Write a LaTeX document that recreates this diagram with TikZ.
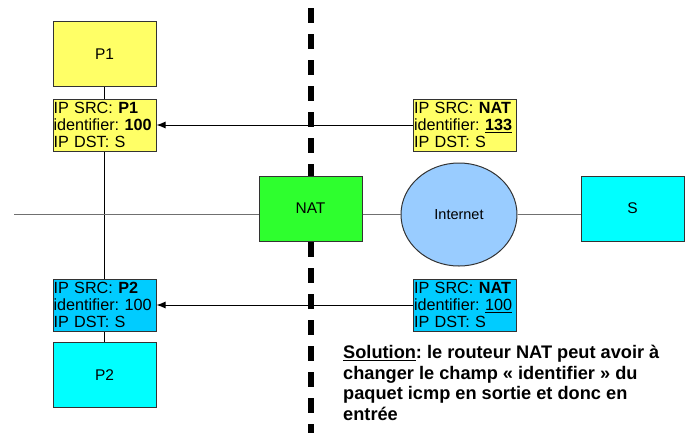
\documentclass[tikz,border=0pt]{standalone}
\usepackage{fontspec}
\setmainfont{Liberation Sans}
\usetikzlibrary{arrows.meta,shapes.geometric}
\frenchspacing

\definecolor{hostyellow}{HTML}{FFFF66}
\definecolor{hostcyan}{HTML}{00FFFF}
\definecolor{pktblue}{HTML}{00CCFF}
\definecolor{natgreen}{HTML}{2EFF2E}
\definecolor{netblue}{HTML}{99CCFF}
\definecolor{edge}{HTML}{333333}
\definecolor{wire}{HTML}{707070}

\tikzset{
  host/.style={draw=edge, line width=1pt, minimum width=103pt, minimum height=65pt,
    inner sep=0pt, font=\fontsize{15.5}{17}\selectfont},
  packet/.style={draw=edge, line width=1pt, minimum width=103pt, minimum height=52pt,
    text width=102pt, inner xsep=0.5pt, inner ysep=0.5pt, align=left,
    font=\fontsize{16.2}{16.8}\selectfont},
  cloud/.style={draw=edge, line width=1pt, ellipse, minimum width=116pt, minimum height=103pt,
    inner sep=0pt, font=\fontsize{14.5}{16}\selectfont},
  msg/.style={draw=black, line width=1pt, -{Latex[length=9pt,width=7pt]}},
  link/.style={draw=wire, line width=1.8pt},
  stack/.style={draw=black, line width=1pt},
  border/.style={draw=black, line width=6pt, dash pattern=on 15pt off 11pt},
}

\begin{document}
\begin{tikzpicture}[x=1pt, y=-1pt]
\useasboundingbox (0,0) rectangle (691,437);

% hosts and packets on the private side
\node[host, fill=hostyellow] (p1) at (104.5,54) {P1};
\node[packet, fill=hostyellow] (pk1) at (104.5,125) {\mbox{IP SRC: \textbf{P1}}\\\mbox{identifier: \textbf{100}}\\\mbox{IP DST: S}};
\node[packet, fill=pktblue] (pk2) at (104.5,305) {\mbox{IP SRC: \textbf{P2}}\\\mbox{identifier: 100}\\\mbox{IP DST: S}};
\node[host, fill=hostcyan] (p2) at (104.5,375) {P2};

% translated packets on the public side
\node[packet, fill=hostyellow] (nk1) at (465,125) {\mbox{IP SRC: \textbf{NAT}}\\\mbox{identifier: \textbf{\underline{133}}}\\\mbox{IP DST: S}};
\node[packet, fill=pktblue] (nk2) at (465,305) {\mbox{IP SRC: \textbf{NAT}}\\\mbox{identifier: \underline{100}}\\\mbox{IP DST: S}};

% public network
\node[cloud, fill=netblue] (inet) at (459,214.5) {Internet};
\node[host, fill=hostcyan] (s) at (632.5,208.5) {S};

% wiring of the private hosts
\draw[stack] (p1.south) -- (pk1.north);
\draw[stack] (pk1.south) -- (pk2.north);
\draw[stack] (pk2.south) -- (p2.north);

% replies coming back through the router
\draw[msg] (nk1.west) -- (pk1.east);
\draw[msg] (nk2.west) -- (pk2.east);

% private / public boundary
\coordinate (btop) at (311,8);
\coordinate (bbot) at (311,433);
\draw[border] (btop) -- (bbot);

% the router
\node[host, fill=natgreen] (nat) at (310.5,208.5) {NAT};

% network links
\coordinate (lan) at (14,214.5);
\draw[link] (lan) -- (lan -| nat.west);
\draw[link] (nat.east |- inet.west) -- (inet.west);
\draw[link] (inet.east) -- (inet.east -| s.west);

% explanation
\node[anchor=north west, inner sep=0pt, align=left,
      font=\fontsize{18.2}{20.5}\selectfont\bfseries] (note) at (343,345)
  {\underline{Solution}: le routeur NAT peut avoir à\\
   changer le champ « identifier » du\\
   paquet icmp en sortie et donc en\\
   entrée};
\end{tikzpicture}
\end{document}
